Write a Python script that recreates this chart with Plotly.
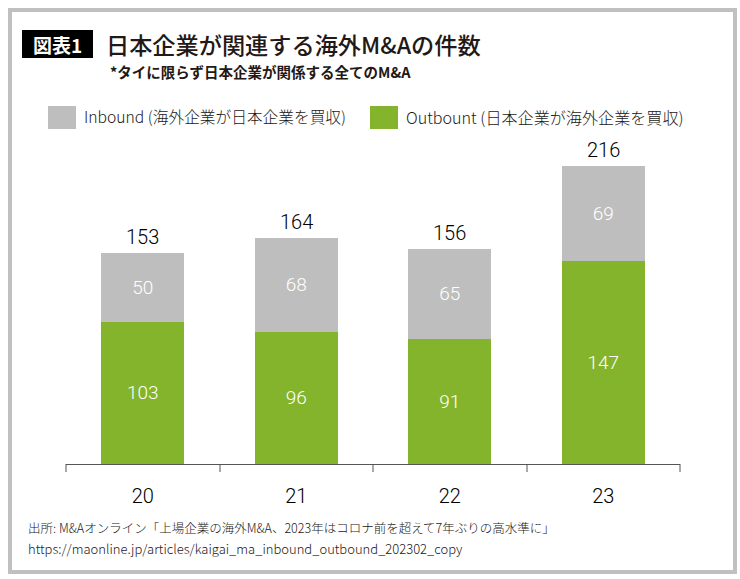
import plotly.graph_objects as go

categories = ["20", "21", "22", "23"]
outbound = [103, 96, 91, 147]
inbound = [50, 68, 65, 69]
totals = [153, 164, 156, 216]

GRAY = "#bebebe"
GREEN = "#84b42c"
FONT = "Noto Sans CJK JP"
NUM = "Roboto"

W, H = 740, 579
x0, x1 = 66, 680
yb, yt = 464, 130
ymax = (yb - yt) / 1.379

fig = go.Figure()
fig.add_trace(go.Bar(x=categories, y=outbound, marker_color=GREEN, marker_line_width=0,
                     text=[str(v) for v in outbound], textposition="inside", insidetextanchor="middle",
                     textfont=dict(color="white", size=19, family=NUM, weight=300), showlegend=False,
                     name="Outbount", textangle=0, constraintext="none"))
fig.add_trace(go.Bar(x=categories, y=inbound, marker_color=GRAY, marker_line_width=0,
                     text=[str(v) for v in inbound], textposition="inside", insidetextanchor="middle",
                     textfont=dict(color="white", size=19, family=NUM, weight=300), showlegend=False,
                     name="Inbound", textangle=0, constraintext="none"))

for i, t in enumerate(totals):
    fig.add_annotation(x=i, y=t, text=str(t), showarrow=False, yanchor="bottom", yshift=2,
                       font=dict(size=20, color="#000", family=NUM, weight=300))

def px(x):
    return (x - x0) / (x1 - x0)

def py(y):
    return (yb - y) / (yb - yt)

shapes = []
# outer border
shapes.append(dict(type="rect", xref="paper", yref="paper",
                   x0=px(10), x1=px(735), y0=py(572), y1=py(10),
                   line=dict(color="#c0c0c0", width=4), fillcolor="rgba(0,0,0,0)", layer="below"))
# title box
shapes.append(dict(type="rect", xref="paper", yref="paper", x0=px(22), x1=px(93), y0=py(58), y1=py(30),
                   fillcolor="black", line=dict(width=0)))
# legend squares
shapes.append(dict(type="rect", xref="paper", yref="paper", x0=px(48), x1=px(76), y0=py(129), y1=py(106),
                   fillcolor=GRAY, line=dict(width=0)))
shapes.append(dict(type="rect", xref="paper", yref="paper", x0=px(370), x1=px(398), y0=py(129), y1=py(106),
                   fillcolor=GREEN, line=dict(width=0)))
# axis ticks
for tx in [66, 220, 373, 527, 680]:
    shapes.append(dict(type="line", xref="paper", yref="paper", x0=px(tx), x1=px(tx), y0=0, y1=py(472),
                       line=dict(color="#555", width=1)))

annots = [
    dict(x=px(57.5), y=py(44), text="<b>図表1</b>", font=dict(size=19, color="white", family=FONT)),
    dict(x=px(104), y=py(44), text="日本企業が関連する海外M&Aの件数", xanchor="left",
         font=dict(size=23.2, color="#231815", family=FONT, weight=500)),
    dict(x=px(108), y=py(71), text="<b>*タイに限らず日本企業が関係する全てのM&A</b>", xanchor="left",
         font=dict(size=14.5, color="#231815", family=FONT)),
    dict(x=px(82), y=py(117), text="Inbound (海外企業が日本企業を買収)", xanchor="left",
         font=dict(size=15.7, color="#231815", family=FONT, weight=300)),
    dict(x=px(404), y=py(117), text="Outbount (日本企業が海外企業を買収)", xanchor="left",
         font=dict(size=16.1, color="#231815", family=FONT, weight=300)),
    dict(x=px(26), y=py(527), text="出所: M&Aオンライン「上場企業の海外M&A、2023年はコロナ前を超えて7年ぶりの高水準に」",
         xanchor="left", font=dict(size=12.5, color="#231815", family=FONT, weight=300)),
    dict(x=px(26), y=py(548), text="https://maonline.jp/articles/kaigai_ma_inbound_outbound_202302_copy",
         xanchor="left", font=dict(size=13, color="#231815", family=FONT, weight=300)),
]
for a in annots:
    a.update(xref="paper", yref="paper", showarrow=False)
    a.setdefault("xanchor", "center")
    a["yanchor"] = "middle"
    fig.add_annotation(**a)

fig.update_layout(
    width=W, height=H, barmode="stack", bargap=0.46,
    plot_bgcolor="white", paper_bgcolor="white",
    margin=dict(l=x0, r=W - x1, t=yt, b=H - yb, autoexpand=False),
    shapes=shapes,
    font=dict(family=FONT),
    xaxis=dict(type="category", range=[-0.5, 3.5], showline=True, linecolor="#555", linewidth=1,
               ticks="", showgrid=False,
               tickfont=dict(size=20, color="#000", family=NUM, weight=300), ticklabelstandoff=14),
    yaxis=dict(range=[0, ymax], visible=False, showgrid=False),
)

fig.write_html("out.html", config={"displayModeBar": False},
               post_script="document.body.style.margin='0';document.body.style.overflow='hidden';")
